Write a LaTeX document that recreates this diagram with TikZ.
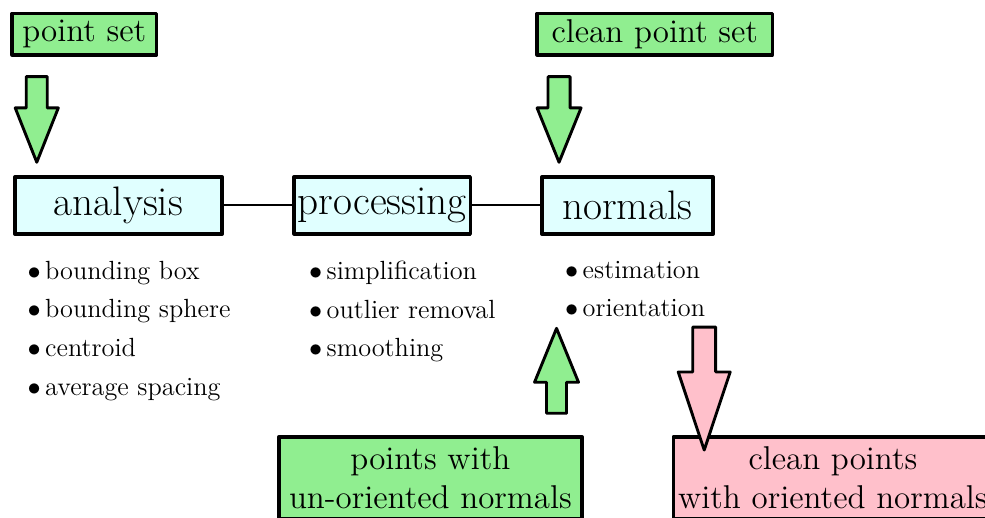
\documentclass[tikz,border=0pt]{standalone}
\usepackage{fix-cm}
\usepackage{amsfonts,amsmath,amssymb}
\usepackage{xcolor}
\usetikzlibrary{arrows.meta,calc,positioning}
\definecolor{lgreen}{HTML}{90EE90}
\definecolor{lcyan}{HTML}{E0FFFF}
\definecolor{lpink}{HTML}{FFC0CB}
\tikzset{
  every picture/.style={line join=round, line cap=round, >=Stealth},
  inbox/.style={draw, line width=1.6pt, fill=lgreen, font=\fontsize{14.8}{17.5}\selectfont, inner sep=2pt, minimum height=0.65cm},
  stagebox/.style={draw, line width=1.6pt, fill=lcyan, font=\fontsize{18.5}{22}\selectfont, inner sep=1pt, minimum height=0.90cm},
  outbox/.style={draw, line width=1.6pt, font=\fontsize{14.8}{17.5}\selectfont, align=center, inner sep=2pt, minimum height=1.30cm},
  itemlist/.style={align=left, font=\fontsize{11.8}{14}\selectfont, inner sep=0pt, anchor=north west},
  fatline/.style={line width=1.3pt},
  link/.style={line width=0.9pt},
}
\newcommand{\itm}{$\bullet$\,}
% block arrow: [fill]{from}{to}{shaft half width}{head half width}
\newcommand{\fatarrow}[5][lgreen]{%
  \draw[fatline,fill=#1] ($(#2)+(-#4,0)$) -- ($(#2)!0.365!(#3)+(-#4,0)$)
    -- ($(#2)!0.365!(#3)+(-#5,0)$) -- (#3) -- ($(#2)!0.365!(#3)+(#5,0)$)
    -- ($(#2)!0.365!(#3)+(#4,0)$) -- ($(#2)+(#4,0)$) -- cycle;}

\begin{document}
\begin{tikzpicture}
\useasboundingbox (0,0) rectangle (15.54,-8.17);
\clip (0,0) rectangle (15.54,-8.17);
% inputs
\node[inbox, minimum width=2.28cm] (pointset) at (1.33,-0.54) {point set};
\node[inbox, minimum width=3.71cm] (cleanset) at (10.33,-0.54) {clean point set};
% stages
\node[stagebox, minimum width=3.27cm] (analysis) at (1.87,-3.24) {analysis};
\node[stagebox, minimum width=2.78cm] (processing) at (6.03,-3.24) {processing};
\node[stagebox, minimum width=2.70cm] (normals) at (9.90,-3.24) {normals};
\draw[link] (analysis) -- (processing);
\draw[link] (processing) -- (normals);
% operations
\node[itemlist] (analysislist) at (0.43,-4.11) {\itm bounding box\\[3.4pt] \itm bounding sphere\\[3.4pt] \itm centroid\\[3.4pt] \itm average spacing};
\node[itemlist] (processinglist) at (4.87,-4.11) {\itm simplification\\[3.4pt] \itm outlier removal\\[3.4pt] \itm smoothing};
\node[itemlist] (normalslist) at (8.91,-4.11) {\itm estimation\\[3.4pt] \itm orientation};
% outputs
\node[outbox, fill=lgreen, minimum width=4.78cm] (unoriented) at (6.79,-7.54) {points with\\un-oriented normals};
\node[outbox, fill=lpink, minimum width=4.93cm] (oriented) at (13.14,-7.54) {clean points\\with oriented normals};
% block arrows
\coordinate (a1s) at (0.58,-1.21); \coordinate (a1e) at (0.58,-2.56);
\coordinate (a2s) at (8.82,-1.21); \coordinate (a2e) at (8.82,-2.56);
\coordinate (a3s) at (8.78,-6.52); \coordinate (a3e) at (8.78,-5.18);
\coordinate (a4s) at (11.11,-5.16); \coordinate (a4e) at (11.11,-7.10);
\fatarrow{a1s}{a1e}{0.166}{0.34}
\fatarrow{a2s}{a2e}{0.174}{0.347}
\fatarrow{a3s}{a3e}{0.158}{0.347}
\fatarrow[lpink]{a4s}{a4e}{0.181}{0.41}
\end{tikzpicture}
\end{document}
